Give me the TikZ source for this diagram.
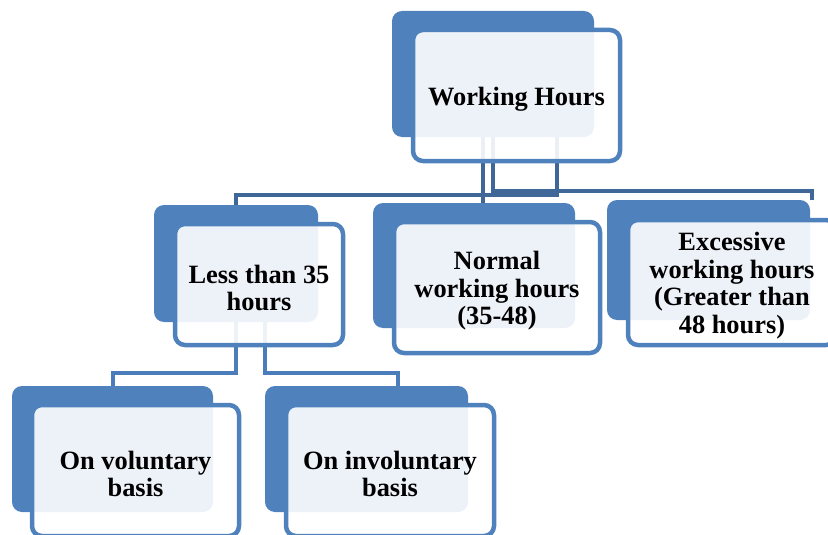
\documentclass[tikz,border=0pt]{standalone}
\usepackage{fontspec}
\setmainfont{Liberation Serif}
\usetikzlibrary{calc}

\definecolor{boxblue}{HTML}{4F81BD}
\definecolor{linkdark}{HTML}{3F6899}
\definecolor{linkblue}{HTML}{4A7DBA}

\newcommand{\topstrut}{\rule{0pt}{25pt}}

\tikzset{
    backbox/.style={fill=boxblue, rounded corners=10pt, inner sep=0pt},
    frontbox/.style={draw=boxblue, line width=4.5pt, fill=white, fill opacity=0.9, text opacity=1,
        rounded corners=10pt, inner sep=0pt, align=center,
        font=\fontsize{26.4}{27.5}\selectfont\bfseries},
    toplink/.style={draw=linkdark, line width=4pt},
    sublink/.style={draw=linkblue, line width=4pt}
}

\begin{document}
\begin{tikzpicture}[x=1pt, y=-1pt]
    \useasboundingbox (0,0) rectangle (828,535);

    % back panels
    \node [backbox, minimum width=202pt, minimum height=126pt] (whb) at (493,74) {};
    \node [backbox, minimum width=164pt, minimum height=117pt] (lessb) at (236,263.5) {};
    \node [backbox, minimum width=202pt, minimum height=125pt] (normb) at (474,265.5) {};
    \node [backbox, minimum width=203pt, minimum height=120pt] (excb) at (708.5,260) {};
    \node [backbox, minimum width=201pt, minimum height=126pt] (volb) at (112.5,449) {};
    \node [backbox, minimum width=203pt, minimum height=126pt] (involb) at (366.5,449) {};

    % links, first level
    \draw [toplink] ([xshift=-10pt]whb.south) -- ++(0,58) -| (lessb.north);
    \draw [toplink] (whb.south) -- ++(0,54) -| ([xshift=2pt]excb.north east);
    \draw [toplink] ([xshift=64pt]whb.south) -- ++(0,58) -| ([xshift=9pt]normb.north);

    % links, second level
    \draw [sublink] (lessb.south) -- ++(0,51) -| (volb.north);
    \draw [sublink] ([xshift=29pt]lessb.south) -- ++(0,51) -| ([xshift=31.5pt]involb.north);

    % front panels
    \node [frontbox, minimum width=207pt, minimum height=131pt] (wh) at (516.5,95.5) {\topstrut Working Hours};
    \node [frontbox, minimum width=168pt, minimum height=121pt] (less) at (259,284.5) {\topstrut Less than 35\\hours};
    \node [frontbox, minimum width=206pt, minimum height=131pt] (norm) at (497,287.5) {\topstrut Normal\\working hours\\(35-48)};
    \node [frontbox, minimum width=208pt, minimum height=125pt] (exc) at (732,282.5) {\topstrut Excessive\\working hours\\(Greater than\\48 hours)};
    \node [frontbox, minimum width=207pt, minimum height=131pt] (vol) at (135.5,470.5) {\topstrut On voluntary\\basis};
    \node [frontbox, minimum width=208pt, minimum height=131pt] (invol) at (390,470.5) {\topstrut On involuntary\\basis};

\end{tikzpicture}
\end{document}
